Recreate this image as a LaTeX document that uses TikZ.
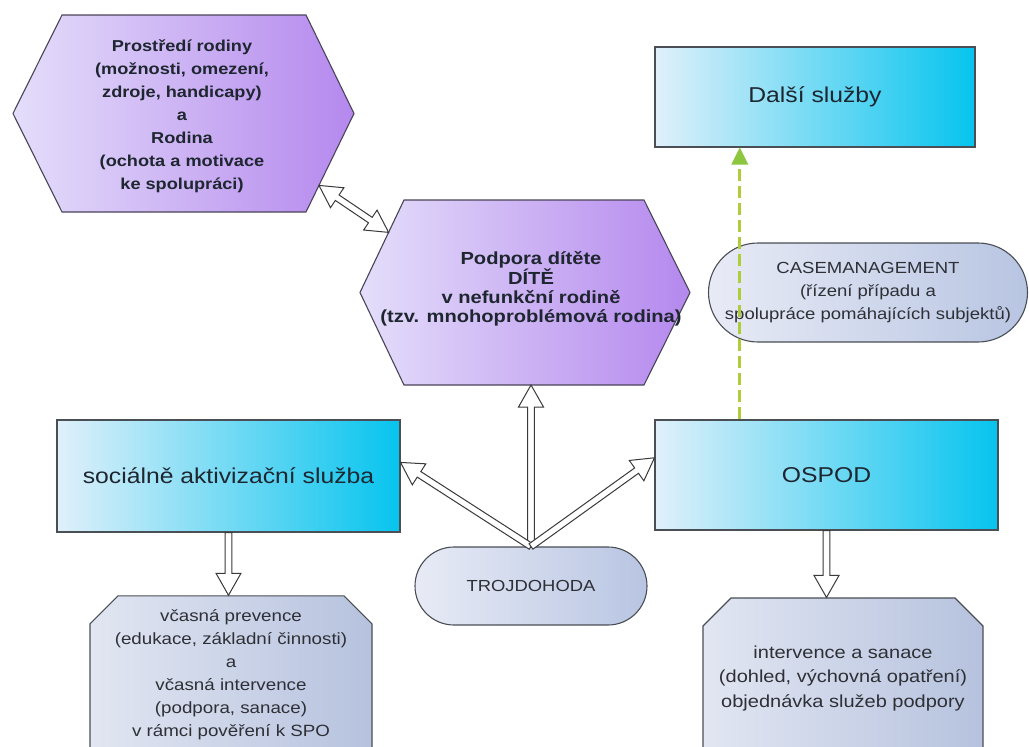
\documentclass[tikz,border=0pt]{standalone}
\usepackage{fontspec}
\setmainfont{Liberation Sans}[FakeStretch=1.15]
\usetikzlibrary{calc,shapes.misc}
\definecolor{hexL}{HTML}{E4DEFA}
\definecolor{hexR}{HTML}{B588EE}
\definecolor{hexline}{HTML}{4A4458}
\definecolor{boxline}{HTML}{4A4E55}
\definecolor{blueL}{HTML}{E0F0FA}
\definecolor{blueR}{HTML}{06C4EE}
\definecolor{lowL}{HTML}{E2E6F2}
\definecolor{lowR}{HTML}{B6C2DE}
\definecolor{pillL}{HTML}{E8EBF6}
\definecolor{pillR}{HTML}{B8C5E2}
\definecolor{dtext}{HTML}{1E2630}
\definecolor{gtext}{HTML}{2E3036}
\definecolor{arrline}{HTML}{3A3A3A}
\definecolor{dashgreen}{HTML}{B0CC38}
\definecolor{headgreen}{HTML}{8DC63F}
% hollow single-headed arrow from #1 to #2
\newcommand\hollowarrow[2]{%
  \path ($(#2)!22pt!(#1)$) coordinate (HAc);
  \draw[hollow] ($(#1)!3.3pt!90:(#2)$) -- ($(HAc)!3.3pt!-90:(#1)$) -- ($(HAc)!12.5pt!-90:(#1)$) -- (#2) -- ($(HAc)!12.5pt!90:(#1)$) -- ($(HAc)!3.3pt!90:(#1)$) -- ($(#1)!3.3pt!-90:(#2)$) -- cycle;
}
% hollow double-headed arrow between #1 and #2
\newcommand\hollowdarrow[2]{%
  \path ($(#2)!22pt!(#1)$) coordinate (HAc) ($(#1)!22pt!(#2)$) coordinate (HAd);
  \draw[hollow] (#1) -- ($(HAd)!12pt!-90:(#2)$) -- ($(HAd)!3.3pt!-90:(#2)$) -- ($(HAc)!3.3pt!90:(#1)$) -- ($(HAc)!12pt!90:(#1)$) -- (#2) -- ($(HAc)!12pt!-90:(#1)$) -- ($(HAc)!3.3pt!-90:(#1)$) -- ($(HAd)!3.3pt!90:(#2)$) -- ($(HAd)!12pt!90:(#2)$) -- cycle;
}
\begin{document}
\begin{tikzpicture}[x=1pt,y=-1pt,
  every node/.style={inner sep=0pt, align=center},
  hexa/.style={draw=hexline, line width=1.1pt, left color=hexL, right color=hexR, line join=miter},
  hextext/.style={text=dtext},
  bluebox/.style={draw=boxline, line width=1.1pt, left color=blueL, right color=blueR, text=dtext, font=\fontsize{21.5}{24}\selectfont},
  pill/.style={rounded rectangle, rounded rectangle arc length=180, draw=boxline, line width=1.1pt, left color=pillL, right color=pillR, text=gtext},
  lowbox/.style={chamfered rectangle, chamfered rectangle corners={north west,north east}, chamfered rectangle xsep=14pt, chamfered rectangle ysep=14pt, draw=boxline, line width=1.1pt, left color=lowL, right color=lowR, text=gtext},
  hollow/.style={draw=arrline, fill=white, line width=1pt, line join=miter}]
\useasboundingbox (0,0) rectangle (1029,747);
\fill[white] (0,0) rectangle (1029,747);
\clip (0,0) rectangle (1029,747);

% hexagon 1
\coordinate (h1tl) at (62,15);
\coordinate (h1tr) at (306,15);
\coordinate (h1r) at (354,113.5);
\coordinate (h1br) at (306,212);
\coordinate (h1bl) at (62,212);
\coordinate (h1l) at (13,113.5);
\path[hexa] (h1tl) -- (h1tr) -- (h1r) -- (h1br) -- (h1bl) -- (h1l) -- cycle;
\node[hextext, font=\bfseries\fontsize{15.8}{23}\selectfont] (h1) at (182,116)
  {Prostředí rodiny\\(možnosti, omezení,\\zdroje, handicapy)\\a\\Rodina\\(ochota a motivace\\ke spolupráci)};

% hexagon 2
\coordinate (h2tl) at (404,200);
\coordinate (h2tr) at (644,200);
\coordinate (h2r) at (690,292.5);
\coordinate (h2br) at (644,385);
\coordinate (h2bl) at (404,385);
\coordinate (h2l) at (360,292.5);
\path[hexa] (h2tl) -- (h2tr) -- (h2r) -- (h2br) -- (h2bl) -- (h2l) -- cycle;
\node[hextext, font=\bfseries\fontsize{17.5}{19}\selectfont] (h2) at (531,289)
  {Podpora dítěte\\DÍTĚ\\v nefunkční rodině\\(tzv. mnohoproblémová rodina)};

% blue boxes
\node[bluebox, minimum width=320pt, minimum height=100pt] (dalsi) at (815,97) {Další služby};
\node[bluebox, minimum width=343pt, minimum height=112pt] (soc) at (228.5,476) {sociálně aktivizační služba};
\node[bluebox, minimum width=343pt, minimum height=110pt] (ospod) at (826.5,475) {OSPOD};

% pills
\node[pill, minimum width=232pt, minimum height=78pt, font=\fontsize{16}{19}\selectfont] (troj) at (531,586) {TROJDOHODA};
\node[pill, minimum width=319pt, minimum height=99pt, font=\fontsize{16.1}{23}\selectfont] (case) at (868,292.5)
  {CASEMANAGEMENT\\(řízení případu a\\spolupráce pomáhajících subjektů)};

% lower boxes
\node[lowbox, minimum width=282pt, minimum height=154pt, font=\fontsize{16.3}{23}\selectfont] (lbox) at (231,675)
  {včasná prevence\\(edukace, základní činnosti)\\a\\včasná intervence\\(podpora, sanace)\\v rámci pověření k SPO};
\node[lowbox, minimum width=280pt, minimum height=160pt, font=\fontsize{17.4}{24.5}\selectfont] (rbox) at (843,678)
  {intervence a sanace\\(dohled, výchovná opatření)\\objednávka služeb podpory};

% connector end points
\coordinate (socin) at ($(soc.north east)!0.38!(soc.south east)$);
\coordinate (ospin) at ($(ospod.north west)!0.345!(ospod.south west)$);
\coordinate (up) at (troj.north |- h2bl);
\coordinate (ldown) at (soc.south |- lbox.north);
\coordinate (rdown) at (ospod.south |- rbox.north);
\coordinate (e1) at ($(h1r)!0.73!(h1br)$);
\coordinate (e2) at ($(h2tl)!0.35!(h2l)$);
\coordinate (gstart) at ($(ospod.north west)!0.248!(ospod.north east)$);
\coordinate (gtip) at (gstart |- dalsi.south);

% green dashed arrow
\draw[dashgreen, line width=3pt, dash pattern=on 12pt off 5pt] (gstart) -- ($(gtip)+(0,15)$);
\fill[headgreen] (gtip) -- ++(-8.5,17) -- ++(17,0) -- cycle;

% hollow arrows
\hollowarrow{troj.north}{up}
\hollowarrow{troj.north}{socin}
\hollowarrow{troj.north}{ospin}
\hollowarrow{soc.south}{ldown}
\hollowarrow{ospod.south}{rdown}
\hollowdarrow{e1}{e2}
\end{tikzpicture}
\end{document}
